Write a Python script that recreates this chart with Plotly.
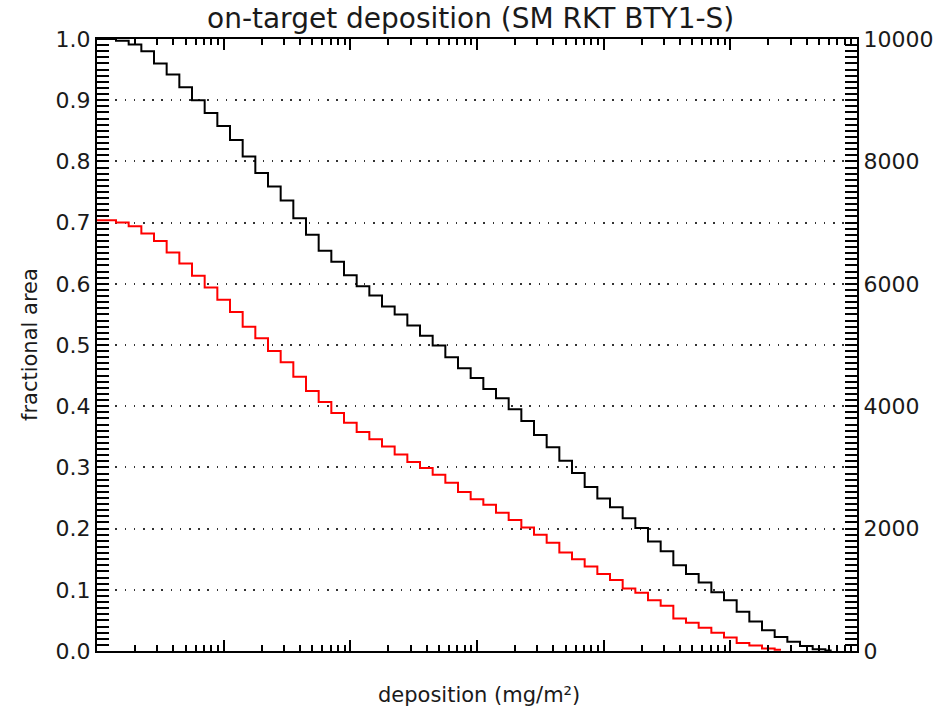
import plotly.graph_objects as go

# Deposition bin centres (log10 of mg/m^2), 0.1-decade bins
bin_log10 = [-2.0, -1.9, -1.8, -1.7, -1.6, -1.5, -1.4, -1.3, -1.2, -1.1,
             -1.0, -0.9, -0.8, -0.7, -0.6, -0.5, -0.4, -0.3, -0.2, -0.1,
             0.0, 0.1, 0.2, 0.3, 0.4, 0.5, 0.6, 0.7, 0.8, 0.9,
             1.0, 1.1, 1.2, 1.3, 1.4, 1.5, 1.6, 1.7, 1.8, 1.9,
             2.0, 2.1, 2.2, 2.3, 2.4, 2.5, 2.6, 2.7, 2.8, 2.9,
             3.0, 3.1, 3.2, 3.3, 3.4, 3.5, 3.6, 3.7, 3.8]

# Cumulative fractional area above each deposition level
frac_black = [1.000, 1.000, 0.997, 0.991, 0.980, 0.960, 0.942, 0.921, 0.900, 0.879,
              0.858, 0.835, 0.808, 0.781, 0.759, 0.736, 0.707, 0.680, 0.654, 0.636,
              0.614, 0.596, 0.581, 0.563, 0.550, 0.532, 0.515, 0.499, 0.480, 0.462,
              0.446, 0.428, 0.413, 0.395, 0.376, 0.353, 0.333, 0.311, 0.291, 0.268,
              0.249, 0.235, 0.217, 0.201, 0.179, 0.163, 0.140, 0.126, 0.112, 0.096,
              0.083, 0.064, 0.048, 0.034, 0.023, 0.015, 0.008, 0.003, 0.001]

frac_red = [0.704, 0.704, 0.700, 0.694, 0.682, 0.670, 0.651, 0.633, 0.613, 0.594,
            0.574, 0.554, 0.530, 0.511, 0.490, 0.472, 0.448, 0.425, 0.407, 0.389,
            0.373, 0.358, 0.346, 0.334, 0.321, 0.309, 0.299, 0.288, 0.275, 0.260,
            0.248, 0.239, 0.226, 0.214, 0.202, 0.190, 0.177, 0.161, 0.150, 0.138,
            0.126, 0.116, 0.102, 0.095, 0.083, 0.074, 0.053, 0.046, 0.038, 0.030,
            0.022, 0.013, 0.009, 0.004, 0.002]

left_ticks = [0.0, 0.1, 0.2, 0.3, 0.4, 0.5, 0.6, 0.7, 0.8, 0.9, 1.0]
left_labels = ["0.0", "0.1", "0.2", "0.3", "0.4", "0.5", "0.6", "0.7", "0.8", "0.9", "1.0"]
right_ticks = [0, 2000, 4000, 6000, 8000, 10000]
right_labels = ["0", "2000", "4000", "6000", "8000", "10000"]

title_text = "on-target deposition (SM RKT BTY1-S)"
x_title = "deposition (mg/m²)"
y_title = "fractional area"

FONT = "DejaVu Sans"
INK = "#1a1a1a"

x_black = [10 ** v for v in bin_log10[:len(frac_black)]]
x_red = [10 ** v for v in bin_log10[:len(frac_red)]]

fig = go.Figure()
fig.add_trace(go.Scatter(x=x_black, y=frac_black, mode="lines",
                         line=dict(color="black", width=2, shape="hvh"),
                         showlegend=False))
fig.add_trace(go.Scatter(x=x_red, y=frac_red, mode="lines",
                         line=dict(color="#ff0000", width=2, shape="hvh"),
                         showlegend=False))
# empty trace to activate the right-hand axis
fig.add_trace(go.Scatter(x=[None], y=[None], yaxis="y2", showlegend=False))

fig.update_layout(
    width=945, height=712,
    margin=dict(l=97, r=81, t=39, b=61),
    paper_bgcolor="white", plot_bgcolor="white",
    font=dict(family=FONT, color=INK, size=22),
    xaxis=dict(
        type="log", range=[-2, 4], dtick=1,
        showticklabels=False, ticks="inside", ticklen=11, tickwidth=1.5,
        tickcolor="black", showline=True, linecolor="black", linewidth=2,
        mirror="ticks", showgrid=False, zeroline=False,
        minor=dict(ticks="inside", ticklen=6, tickwidth=1.5, tickcolor="black",
                   dtick="D1", showgrid=False),
    ),
    yaxis=dict(
        range=[0, 1], tickvals=left_ticks, ticktext=left_labels,
        ticks="inside", ticklen=12, tickwidth=1.5, tickcolor="black",
        showline=True, linecolor="black", linewidth=2, mirror=False,
        showgrid=True, gridcolor="#333333", gridwidth=1.5, griddash="1.5px,7.7px",
        zeroline=False, tickfont=dict(size=22, color=INK),
        minor=dict(ticks="inside", ticklen=12, tickwidth=1.5, tickcolor="black",
                   dtick=0.01, showgrid=False),
    ),
    yaxis2=dict(
        overlaying="y", side="right", anchor="x",
        range=[0, 10000], tickvals=right_ticks, ticktext=right_labels,
        ticks="inside", ticklen=12, tickwidth=1.5, tickcolor="black",
        showline=True, linecolor="black", linewidth=2,
        showgrid=False, zeroline=False, tickfont=dict(size=22, color=INK),
        minor=dict(ticks="inside", ticklen=12, tickwidth=1.5, tickcolor="black",
                   dtick=100, showgrid=False),
    ),
    annotations=[
        dict(text=title_text, xref="paper", yref="paper", x=0.492, y=1,
             yshift=21, showarrow=False, xanchor="center", yanchor="middle",
             font=dict(size=28, family=FONT, color=INK)),
        dict(text=x_title, xref="paper", yref="paper", x=0.503, y=0,
             yshift=-44, showarrow=False, xanchor="center", yanchor="middle",
             font=dict(size=21, family=FONT, color=INK)),
        dict(text=y_title, xref="paper", yref="paper", x=0, y=0.5,
             xshift=-67, showarrow=False, xanchor="center", yanchor="middle",
             textangle=-90, font=dict(size=21, family=FONT, color=INK)),
    ],
)

fig.write_html("out.html")
